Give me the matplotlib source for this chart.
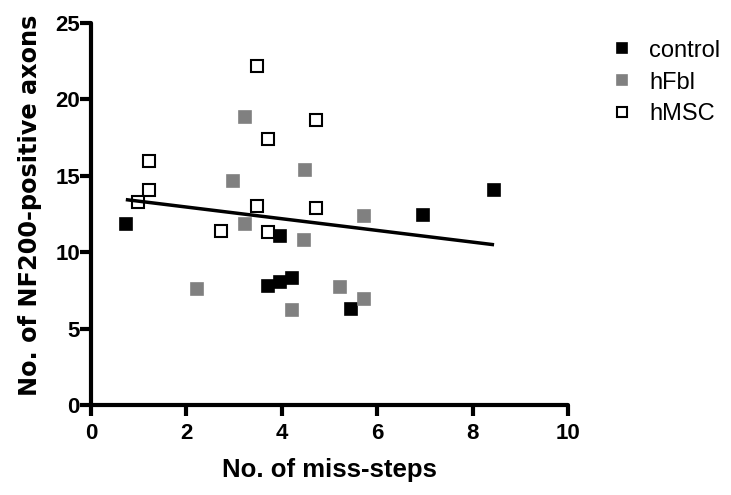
import numpy as np
import matplotlib
matplotlib.use("Agg")
import matplotlib.pyplot as plt

# values
control_x = [0.73, 3.72, 3.96, 3.96, 4.22, 5.46, 6.97, 8.45]
control_y = [11.85, 7.8, 8.07, 11.06, 8.31, 6.28, 12.41, 14.07]

hfbl_x = [3.23, 2.97, 4.48, 5.72, 3.22, 4.47, 2.23, 4.22, 5.22, 5.72]
hfbl_y = [18.87, 14.64, 15.4, 12.4, 11.85, 10.78, 7.57, 6.2, 7.72, 6.92]

hmsc_x = [3.47, 4.72, 3.72, 1.22, 1.22, 0.98, 3.47, 4.72, 2.73, 3.72]
hmsc_y = [22.19, 18.65, 17.41, 16.0, 14.07, 13.29, 13.05, 12.9, 11.41, 11.34]

x_ticks = [0, 2, 4, 6, 8, 10]
y_ticks = [0, 5, 10, 15, 20, 25]

fig = plt.figure(figsize=(7.31, 4.95), dpi=100)
ax = fig.add_axes([91 / 731, 1 - 405 / 495, (568 - 91) / 731, (405 - 23) / 495])

ms = 9
ax.plot(control_x, control_y, 's', color='black', ms=ms, mec='black', mew=1.2,
        label='control', clip_on=False)
ax.plot(hfbl_x, hfbl_y, 's', color='#808080', ms=ms, mec='#808080', mew=1.2,
        label='hFbl', clip_on=False)
ax.plot(hmsc_x, hmsc_y, 's', mfc='white', ms=ms, mec='black', mew=1.5,
        label='hMSC', clip_on=False)

# linear fit through all points
all_x = np.array(control_x + hfbl_x + hmsc_x)
all_y = np.array(control_y + hfbl_y + hmsc_y)
slope, icpt = np.polyfit(all_x, all_y, 1)
fx = np.array([all_x.min(), all_x.max()])
ax.plot(fx, slope * fx + icpt, color='black', lw=2.5, solid_capstyle='butt')

ax.set_xlim(0, 10)
ax.set_ylim(0, 25)
ax.set_xticks(x_ticks)
ax.set_yticks(y_ticks)
for s in ['top', 'right']:
    ax.spines[s].set_visible(False)
for s in ['left', 'bottom']:
    ax.spines[s].set_linewidth(3)
    ax.spines[s].set_capstyle('round')
ax.tick_params(width=3, length=8, labelsize=16)
ax.tick_params(axis='y', pad=0)
ax.tick_params(axis='x', pad=5)
for lab in ax.get_xticklabels() + ax.get_yticklabels():
    lab.set_fontweight('bold')
    lab.set_family('Liberation Sans')

ax.set_xlabel('No. of miss-steps', fontsize=18.5, fontweight='bold',
              family='Liberation Sans', labelpad=10)
ax.set_ylabel('No. of NF200-positive axons', fontsize=17.3, fontweight='bold',
              family='DejaVu Sans')
ax.yaxis.set_label_coords(-0.103, 0.523)

ax.legend(loc='upper left', bbox_to_anchor=(1.039, 1.012), frameon=False,
          prop={'family': 'Liberation Sans', 'size': 17}, markerscale=0.75,
          handletextpad=0.55, labelspacing=0.42, handlelength=1.2)

fig.savefig('out.png', dpi=100)
